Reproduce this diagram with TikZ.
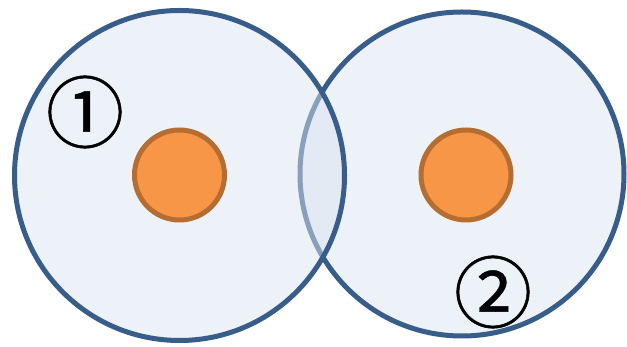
\documentclass[tikz,border=0pt]{standalone}
\usepackage{fontspec}
\newfontfamily\cjk[FakeBold=0.6]{Noto Sans CJK JP}
\usepackage{xcolor}
\usepackage{tikz}
\definecolor{zoneline}{HTML}{385D8A}
\definecolor{zonefill}{HTML}{DBE3F1}
\definecolor{coreline}{HTML}{B66D31}
\definecolor{corefill}{HTML}{F79646}
\tikzset{
  zone/.style={circle,draw=zoneline,line width=5pt,fill=zonefill,fill opacity=0.5,draw opacity=1,inner sep=0pt},
  core/.style={circle,draw=coreline,line width=5pt,fill=corefill,minimum size=90pt,inner sep=0pt},
  numlab/.style={font=\cjk\fontsize{78}{78}\selectfont,inner sep=0pt}
}
\begin{document}
\begin{tikzpicture}[x=1pt,y=1pt]
\useasboundingbox (0,0) rectangle (627,347);
% two zones, the left one lies over the right one
\node[zone,minimum size=324pt] (z2) at (462,173) {};
\node[zone,minimum size=330pt] (z1) at (179.5,171.5) {};
\node[core] (c1) at (179.5,172) {};
\node[core] (c2) at (466,172) {};
\node[numlab] (n1) at (85,235) {①};
\node[numlab] (n2) at (493,55) {②};
\end{tikzpicture}
\end{document}
